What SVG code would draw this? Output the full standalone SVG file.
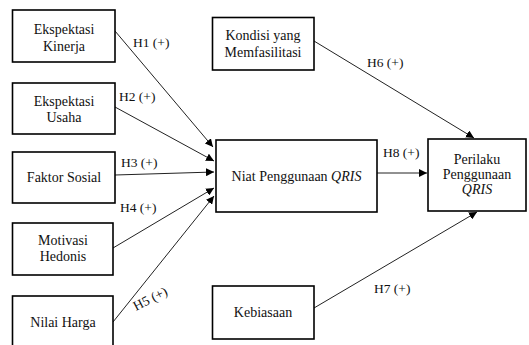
<svg xmlns="http://www.w3.org/2000/svg" width="529" height="345" viewBox="0 0 529 345">
<defs>
<style>
.box{fill:#fff;stroke:#000;stroke-width:1.6}
.t{font-family:"Liberation Serif","Times New Roman",serif;font-size:14px;fill:#111;text-anchor:middle}
.lbl{font-family:"Liberation Serif","Times New Roman",serif;font-size:13.5px;fill:#111}
.c{stroke:#222;stroke-width:1;fill:none;marker-end:url(#ah)}
</style>
<marker id="ah" viewBox="0 0 10 10" refX="10" refY="5" markerWidth="8" markerHeight="8" markerUnits="userSpaceOnUse" orient="auto">
<path d="M0,0 L10,5 L0,10 z" fill="#000"/>
</marker>
</defs>
<rect width="529" height="345" fill="#fff"/>
<g id="connectors">
<line class="c" x1="115" y1="31" x2="213" y2="147"/>
<line class="c" x1="115" y1="107" x2="214" y2="161"/>
<line class="c" x1="115" y1="175" x2="214" y2="172"/>
<line class="c" x1="113" y1="248" x2="214" y2="188"/>
<line class="c" x1="113" y1="322" x2="214" y2="196"/>
<line class="c" x1="314" y1="41" x2="474" y2="138"/>
<line class="c" x1="377" y1="173" x2="427" y2="173"/>
<line class="c" x1="314" y1="308" x2="477" y2="212"/>
<text class="lbl" x="133" y="47">H1 (+)</text>
<text class="lbl" x="119" y="101">H2 (+)</text>
<text class="lbl" x="121" y="167">H3 (+)</text>
<text class="lbl" x="120" y="212">H4 (+)</text>
<text class="lbl" transform="translate(136,311) rotate(-27)">H5 (+)</text>
<text class="lbl" x="367" y="67">H6 (+)</text>
<text class="lbl" x="383" y="157">H8 (+)</text>
<text class="lbl" x="374" y="293">H7 (+)</text>
</g>
<g id="ekspektasi-kinerja">
<rect class="box" x="12.5" y="10" width="102.5" height="52"/>
<text class="t" x="64" y="34">Ekspektasi</text>
<text class="t" x="64" y="51">Kinerja</text>
</g>
<g id="ekspektasi-usaha">
<rect class="box" x="12.5" y="83" width="102.5" height="51"/>
<text class="t" x="64" y="106">Ekspektasi</text>
<text class="t" x="64" y="122">Usaha</text>
</g>
<g id="faktor-sosial">
<rect class="box" x="12.5" y="152" width="102.5" height="51"/>
<text class="t" x="64" y="182">Faktor Sosial</text>
</g>
<g id="motivasi-hedonis">
<rect class="box" x="12.5" y="223" width="100.5" height="52"/>
<text class="t" x="63" y="245">Motivasi</text>
<text class="t" x="63" y="261">Hedonis</text>
</g>
<g id="nilai-harga">
<rect class="box" x="12.5" y="296" width="100.5" height="60"/>
<text class="t" x="63" y="327">Nilai Harga</text>
</g>
<g id="kondisi">
<rect class="box" x="212.5" y="17.5" width="101.5" height="52.5"/>
<text class="t" x="263" y="40">Kondisi yang</text>
<text class="t" x="263" y="57">Memfasilitasi</text>
</g>
<g id="niat">
<rect class="box" x="216" y="140" width="161" height="72"/>
<text class="t" x="296.5" y="181">Niat Penggunaan <tspan font-style="italic">QRIS</tspan></text>
</g>
<g id="perilaku">
<rect class="box" x="428" y="139" width="98" height="72"/>
<text class="t" x="477" y="164">Perilaku</text>
<text class="t" x="477" y="179">Penggunaan</text>
<text class="t" x="477" y="194" font-style="italic">QRIS</text>
</g>
<g id="kebiasaan">
<rect class="box" x="212.5" y="286" width="101.5" height="53"/>
<text class="t" x="263" y="317">Kebiasaan</text>
</g>
</svg>
